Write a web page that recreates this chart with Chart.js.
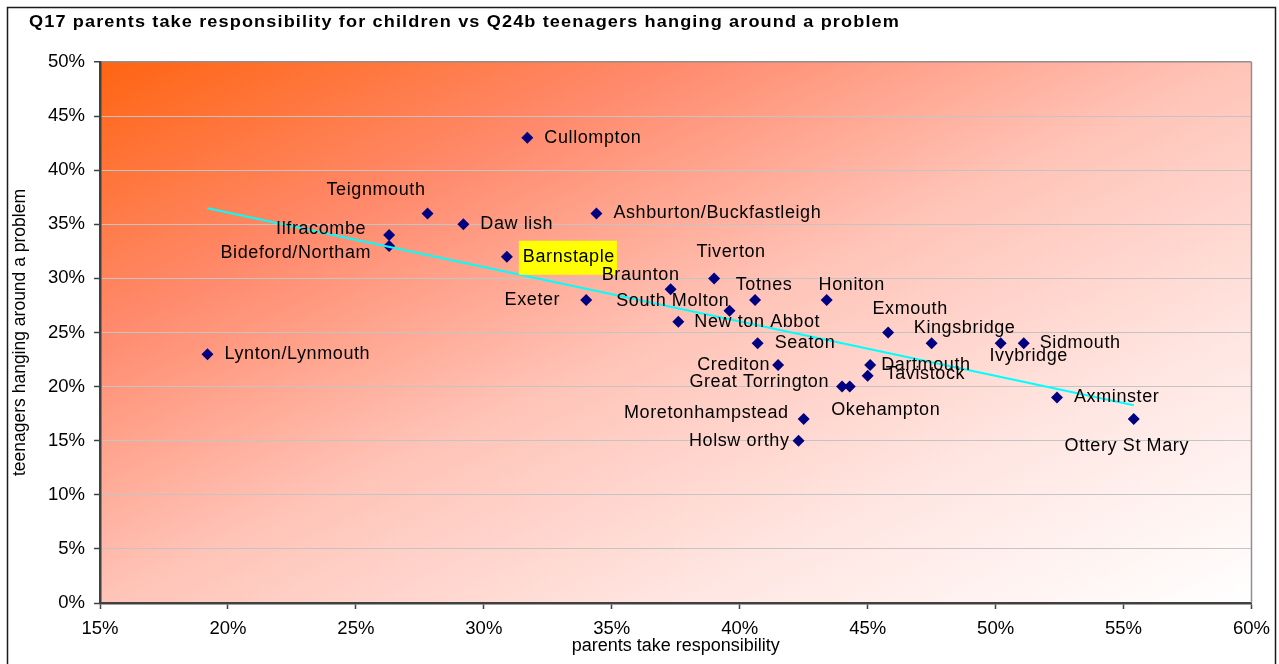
<!DOCTYPE html>
<html>
<head>
<meta charset="utf-8">
<title>Q17 vs Q24b</title>
<script src="https://cdn.jsdelivr.net/npm/chart.js@4.4.1/dist/chart.umd.min.js"></script>
<style>
  html, body { margin: 0; padding: 0; background: #fff; }
  #wrap { width: 1279px; height: 664px; position: relative; }
</style>
</head>
<body>
<div id="wrap"><canvas id="myChart"></canvas></div>
<script>
// towns, Q17 "parents take responsibility" (x) and Q24b "teenagers hanging around a problem" (y)
const towns = [
  "Cullompton", "Teignmouth", "Daw lish", "Ashburton/Buckfastleigh", "Ilfracombe",
  "Bideford/Northam", "Barnstaple", "Tiverton", "Braunton", "Exeter",
  "Totnes", "Honiton", "South Molton", "New ton Abbot", "Exmouth",
  "Seaton", "Kingsbridge", "Ivybridge", "Sidmouth", "Lynton/Lynmouth",
  "Crediton", "Dartmouth", "Tavistock", "Great Torrington", "Okehampton",
  "Axminster", "Moretonhampstead", "Ottery St Mary", "Holsw orthy"
];
const parentsResp = [
  0.317, 0.278, 0.292, 0.344, 0.263,
  0.263, 0.309, 0.390, 0.373, 0.340,
  0.406, 0.434, 0.396, 0.376, 0.458,
  0.407, 0.475, 0.502, 0.511, 0.192,
  0.415, 0.451, 0.450, 0.440, 0.443,
  0.524, 0.425, 0.554, 0.423
];
const teensProblem = [
  0.43, 0.36, 0.35, 0.36, 0.34,
  0.33, 0.32, 0.30, 0.29, 0.28,
  0.28, 0.28, 0.27, 0.26, 0.25,
  0.24, 0.24, 0.24, 0.24, 0.23,
  0.22, 0.22, 0.21, 0.20, 0.20,
  0.19, 0.17, 0.17, 0.15
];
const xTicks = [0.15, 0.20, 0.25, 0.30, 0.35, 0.40, 0.45, 0.50, 0.55, 0.60];
const yTicks = [0, 0.05, 0.10, 0.15, 0.20, 0.25, 0.30, 0.35, 0.40, 0.45, 0.50];

const titleText = "Q17 parents take responsibility for children vs Q24b teenagers hanging around a problem";
const highlightTown = "Barnstaple";

// where each town's name sits around its marker: [textAlign, dx, dy]
const labelPos = {
  "Cullompton": ["left", 17, 0],
  "Teignmouth": ["right", -2, -23],
  "Daw lish": ["left", 17, 0],
  "Ashburton/Buckfastleigh": ["left", 17, 0],
  "Ilfracombe": ["right", -23, -6],
  "Bideford/Northam": ["right", -18, 7],
  "Barnstaple": ["left", 16, 0],
  "Tiverton": ["center", 17, -26],
  "Braunton": ["center", -30, -14],
  "Exeter": ["right", -26, 0],
  "Totnes": ["center", 9, -15],
  "Honiton": ["center", 25, -15],
  "South Molton": ["right", 0, -10],
  "New ton Abbot": ["left", 16, 0],
  "Exmouth": ["center", 22, -23],
  "Seaton": ["left", 17, 0],
  "Kingsbridge": ["center", 33, -15],
  "Ivybridge": ["center", 28, 13],
  "Sidmouth": ["left", 16, 0],
  "Lynton/Lynmouth": ["left", 17, 0],
  "Crediton": ["right", -8, 0],
  "Dartmouth": ["left", 11, 0],
  "Tavistock": ["left", 18, -2],
  "Great Torrington": ["right", -13, -5],
  "Okehampton": ["center", 36, 23],
  "Axminster": ["left", 17, 0],
  "Moretonhampstead": ["right", -15, -6],
  "Ottery St Mary": ["center", -7, 27],
  "Holsw orthy": ["right", -9, 0]
};

// least squares trend line over the data range
function trendLine(xs, ys) {
  let n = xs.length, sx = 0, sy = 0, sxx = 0, sxy = 0;
  for (let i = 0; i < n; i++) {
    sx += xs[i]; sy += ys[i];
    sxx += xs[i] * xs[i]; sxy += xs[i] * ys[i];
  }
  let b = (n * sxy - sx * sy) / (n * sxx - sx * sx);
  let a = (sy - b * sx) / n;
  let x0 = Math.min(...xs), x1 = Math.max(...xs);
  return [{ x: x0, y: a + b * x0 }, { x: x1, y: a + b * x1 }];
}

const points = towns.map((t, i) => ({ x: parentsResp[i], y: teensProblem[i] }));

const FONT = "'Liberation Sans', Arial, sans-serif";

const framePlugin = {
  id: "frame",
  beforeDraw(chart) {
    const ctx = chart.ctx;
    const a = chart.chartArea;
    const w = a.right - a.left, h = a.bottom - a.top;
    ctx.save();
    ctx.fillStyle = "#fff";
    ctx.fillRect(0, 0, chart.width, chart.height);
    // corner to corner shading, lines of equal colour run along the other diagonal
    const t = 2 * w * h / (w * w + h * h);
    const g = ctx.createLinearGradient(a.left, a.top, a.left + h * t, a.top + w * t);
    g.addColorStop(0, "#ff6412");
    g.addColorStop(0.25, "#ff8a6c");
    g.addColorStop(0.5, "#ffc4b8");
    g.addColorStop(0.75, "#ffe6e2");
    g.addColorStop(1, "#ffffff");
    ctx.fillStyle = g;
    ctx.fillRect(a.left, a.top, w, h);
    ctx.restore();
  },
  afterDraw(chart) {
    const ctx = chart.ctx;
    const a = chart.chartArea;
    ctx.save();
    // right edge of the plot
    ctx.strokeStyle = "#909090";
    ctx.lineWidth = 1.5;
    ctx.beginPath();
    ctx.moveTo(a.right, a.top);
    ctx.lineTo(a.right, a.bottom);
    ctx.stroke();
    // outer frame
    ctx.strokeStyle = "#1a1a1a";
    ctx.lineWidth = 1.5;
    ctx.strokeRect(7.5, 7.5, 1268, 720);
    // title, widened to run out to x = 900
    ctx.fillStyle = "#000";
    ctx.font = "bold 16px " + FONT;
    ctx.textBaseline = "middle";
    ctx.textAlign = "left";
    ctx.letterSpacing = "1px";
    const plain = ctx.measureText(titleText).width;
    ctx.translate(29, 23);
    ctx.scale(871 / plain, 1);
    ctx.fillText(titleText, 0, 0);
    ctx.restore();
  }
};

const labelPlugin = {
  id: "townLabels",
  afterDatasetsDraw(chart) {
    const ctx = chart.ctx;
    const meta = chart.getDatasetMeta(0);
    ctx.save();
    ctx.font = "18px " + FONT;
    ctx.letterSpacing = "0.6px";
    ctx.textBaseline = "middle";
    meta.data.forEach((el, i) => {
      const name = towns[i];
      const p = labelPos[name] || ["left", 16, 0];
      const x = el.x + p[1], y = el.y + p[2];
      ctx.textAlign = p[0];
      if (name === highlightTown) {
        const tw = ctx.measureText(name).width;
        ctx.fillStyle = "#ffff00";
        ctx.fillRect(x - 4, y - 16, tw + 6, 34);
      }
      ctx.fillStyle = "#000";
      ctx.fillText(name, x, y);
    });
    ctx.restore();
  }
};

const ctx1 = document.getElementById("myChart").getContext("2d");
const myChart = new Chart(ctx1, {
  type: "scatter",
  data: {
    datasets: [
      {
        label: "towns",
        data: points,
        pointStyle: "rectRot",
        pointRadius: 6,
        pointHoverRadius: 6,
        backgroundColor: "#000080",
        borderColor: "#000080",
        borderWidth: 0,
        order: 2,
      },
      {
        type: "line",
        label: "trend",
        data: trendLine(parentsResp, teensProblem),
        borderColor: "#00ffff",
        borderWidth: 2,
        pointRadius: 0,
        fill: false,
        order: 1,
      },
    ],
  },
  options: {
    responsive: true,
    maintainAspectRatio: false,
    animation: false,
    layout: { padding: { left: 8, top: 62, right: 27, bottom: 0 } },
    plugins: {
      legend: { display: false },
      tooltip: { enabled: false },
    },
    scales: {
      x: {
        type: "linear",
        min: 0.15,
        max: 0.60,
        afterBuildTicks(scale) { scale.ticks = xTicks.map(v => ({ value: v })); },
        afterFit(scale) { scale.height = 61; },
        ticks: {
          padding: 9,
          color: "#000",
          font: { family: FONT, size: 18.5 },
          callback: v => Math.round(v * 100) + "%",
          maxRotation: 0,
        },
        grid: {
          drawOnChartArea: false,
          tickLength: 6,
          tickColor: "#404040",
          tickWidth: 1.5,
        },
        border: { color: "#404040", width: 2.5 },
        title: {
          display: true,
          text: "parents take responsibility",
          color: "#000",
          font: { family: FONT, size: 18 },
          padding: { top: 0, bottom: 7 },
        },
      },
      y: {
        type: "linear",
        min: 0,
        max: 0.5,
        afterBuildTicks(scale) { scale.ticks = yTicks.map(v => ({ value: v })); },
        afterFit(scale) { scale.width = 92; },
        ticks: {
          padding: 9,
          color: "#000",
          font: { family: FONT, size: 18.5 },
          callback: v => Math.round(v * 100) + "%",
        },
        grid: {
          color: ctx => (ctx.tick && ctx.tick.value >= 0.5 ? "#909090" : "#c4c4c4"),
          lineWidth: ctx => (ctx.tick && ctx.tick.value >= 0.5 ? 1.5 : 1),
          tickLength: 6,
          tickColor: "#404040",
          tickWidth: 1.5,
        },
        border: { color: "#404040", width: 2.5 },
        title: {
          display: true,
          text: "teenagers hanging around a problem",
          color: "#000",
          font: { family: FONT, size: 17.5 },
          padding: { top: 2, bottom: 4 },
        },
      },
    },
  },
  plugins: [framePlugin, labelPlugin],
});
</script>
</body>
</html>
